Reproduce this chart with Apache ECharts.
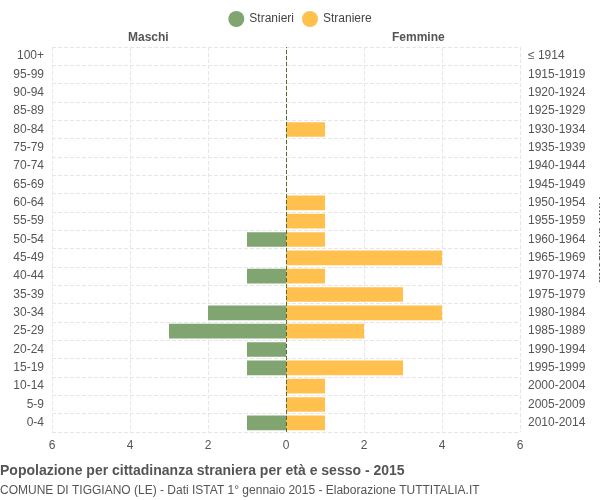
<!DOCTYPE html>
<html>
<head>
<meta charset="UTF-8">
<script src="https://cdn.jsdelivr.net/npm/echarts@6/dist/echarts.min.js"></script>
</head>
<body style="margin:0">
<div id="main" style="width:600px;height:500px"></div>
<script>
var ages = ['0-4','5-9','10-14','15-19','20-24','25-29','30-34','35-39','40-44','45-49','50-54','55-59','60-64','65-69','70-74','75-79','80-84','85-89','90-94','95-99','100+'];
var years = ['2010-2014','2005-2009','2000-2004','1995-1999','1990-1994','1985-1989','1980-1984','1975-1979','1970-1974','1965-1969','1960-1964','1955-1959','1950-1954','1945-1949','1940-1944','1935-1939','1930-1934','1925-1929','1920-1924','1915-1919','≤ 1914'];
var maschi  = [1,0,0,1,1,3,2,0,1,0,1,0,0,0,0,0,0,0,0,0,0];
var femmine = [1,1,1,3,0,2,4,3,1,4,1,1,1,0,0,0,1,0,0,0,0];

var chart = echarts.init(document.getElementById('main'));
var txt = {color:'#555', fontFamily:'Liberation Sans, Arial', fontSize:12};
chart.setOption({
  animation:false,
  textStyle:{fontFamily:'Liberation Sans, Arial'},
  legend:{top:6, left:'center', itemWidth:16, itemHeight:16, icon:'circle', textStyle:{color:'#444',fontSize:12}, data:['Stranieri','Straniere']},
  grid:{left:52, right:80, top:47, bottom:68, containLabel:false, outerBoundsMode:'none'},
  xAxis:{type:'value', min:-6, max:6, interval:2,
    axisLabel:Object.assign({formatter:function(v){return Math.abs(v);}}, txt),
    axisLine:{show:false}, axisTick:{show:false},
    splitLine:{lineStyle:{color:'#e6e6e6', type:'dashed'}}},
  yAxis:[
    {type:'category', data:ages, axisLabel:txt, axisTick:{show:false}, axisLine:{show:false},
     splitLine:{show:true, lineStyle:{color:'#e6e6e6', type:'dashed'}},
     name:'Fasce di età', nameLocation:'middle', nameGap:38, nameRotate:90,
     nameTextStyle:{fontWeight:'bold', color:'#555', fontSize:12}},
    {type:'category', data:years, position:'right', axisLabel:txt, axisTick:{show:false}, axisLine:{show:false},
     name:'Anni di nascita', nameLocation:'middle', nameGap:68, nameRotate:-90,
     nameTextStyle:{fontWeight:'bold', color:'#555', fontSize:12}}
  ],
  graphic:[
    {type:'text', left:128, top:32, style:{text:'Maschi', font:'bold 12px Liberation Sans', fill:'#555'}},
    {type:'text', left:392, top:32, style:{text:'Femmine', font:'bold 12px Liberation Sans', fill:'#555'}},
    {type:'text', left:0, top:464, style:{text:'Popolazione per cittadinanza straniera per età e sesso - 2015', font:'bold 14px Liberation Sans', fill:'#555'}},
    {type:'text', left:0, top:485, style:{text:'COMUNE DI TIGGIANO (LE) - Dati ISTAT 1° gennaio 2015 - Elaborazione TUTTITALIA.IT', font:'12px Liberation Sans', fill:'#555'}}
  ],
  series:[
    {name:'Stranieri', type:'bar', stack:'t', barWidth:'80%', itemStyle:{color:'#80a571'},
     data:maschi.map(function(v){return -v;}),
     markLine:{symbol:'none', silent:true, label:{show:false}, lineStyle:{color:'#556b2f', type:'dashed', width:1}, data:[{xAxis:0}]}},
    {name:'Straniere', type:'bar', stack:'t', barWidth:'80%', itemStyle:{color:'#ffc04d'}, data:femmine}
  ]
});
</script>
</body>
</html>
